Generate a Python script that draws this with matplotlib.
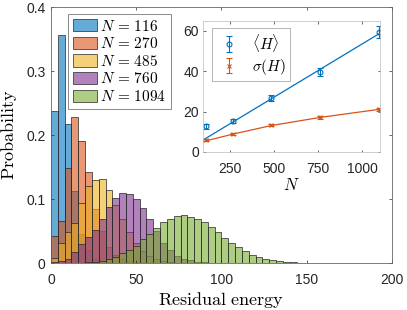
import numpy as np
import matplotlib
matplotlib.use("Agg")
import matplotlib.pyplot as plt

plt.rcParams['font.family'] = ['Liberation Sans', 'DejaVu Sans']
plt.rcParams['mathtext.fontset'] = 'cm'

# histogram data, bin width 4 starting at 0
bin_width = 4
sizes = [116, 270, 485, 760, 1094]
prob_116 = [0.237, 0.357, 0.217, 0.1125, 0.045, 0.02, 0.006, 0.002, 0.001]
prob_270 = [0.0426, 0.065, 0.149, 0.228, 0.190, 0.1423, 0.085, 0.05, 0.025,
            0.013, 0.007, 0.003, 0.001]
prob_485 = [0.008, 0.031, 0.048, 0.063, 0.093, 0.12, 0.1295, 0.1305, 0.114,
            0.09, 0.068, 0.048, 0.032, 0.019, 0.011, 0.006, 0.003, 0.001]
prob_760 = [0.001, 0.003, 0.0065, 0.017, 0.030, 0.040, 0.052, 0.068, 0.087,
            0.101, 0.109, 0.1075, 0.0997, 0.0856, 0.0686, 0.05, 0.032, 0.02,
            0.011, 0.007, 0.004, 0.002, 0.001]
prob_1094 = [0, 0, 0, 0, 0, 0.001, 0.002, 0.003, 0.006, 0.010, 0.015, 0.020,
             0.027, 0.0375, 0.046, 0.0546, 0.064, 0.0695, 0.073, 0.0747,
             0.0726, 0.0695, 0.064, 0.056, 0.0478, 0.039, 0.031, 0.0245,
             0.019, 0.0127, 0.009, 0.0065, 0.0043, 0.0033, 0.002, 0.001,
             0.0007, 0.0003]
all_probs = [prob_116, prob_270, prob_485, prob_760, prob_1094]

# inset data
inset_N = [116, 270, 485, 760, 1094]
mean_H = [12.7, 15.4, 26.5, 39.8, 59.3]
mean_err = [1.3, 1.0, 1.5, 2.0, 3.0]
sigma_H = [5.7, 8.9, 13.3, 17.1, 21.1]
sigma_err = [0.5, 0.5, 0.6, 0.7, 0.8]
fit_N_mean = [100, 1094]
fit_mean = [6.0, 58.5]
fit_N_sigma = [100, 270, 485, 760, 1094]
fit_sigma = [5.2, 8.9, 13.1, 17.1, 21.1]

colors = ['#0072BD', '#D95319', '#EDB120', '#7E2F8E', '#77AC30']
axis_col = '#262626'

fig = plt.figure(figsize=(4.07, 3.10), dpi=100)
ax = fig.add_axes([0.1253, 0.1516, 0.8378, 0.8258])

for n, probs, c in zip(sizes, all_probs, colors):
    left = np.arange(len(probs)) * bin_width
    fc = matplotlib.colors.to_rgba(c, 0.6)
    ax.bar(left, probs, width=bin_width, align='edge', facecolor=fc,
           edgecolor=(0.15, 0.15, 0.15, 1.0), linewidth=0.5,
           label=r'$N\, =\, %d$' % n)

ax.set_xlim(0, 200)
ax.set_ylim(0, 0.4)
ax.set_xticks([0, 50, 100, 150, 200])
ax.set_yticks([0, 0.1, 0.2, 0.3, 0.4])
ax.set_yticklabels(['0', '0.1', '0.2', '0.3', '0.4'])
ax.tick_params(direction='in', top=True, right=True, length=2.5, width=0.5,
               labelsize=10, colors=axis_col)
ax.tick_params(axis='x', pad=7)
ax.tick_params(axis='y', pad=4)
for s in ax.spines.values():
    s.set_linewidth(0.6)
    s.set_color('#666666')
ax.set_xlabel(r'$\mathrm{Residual\ energy}$', fontsize=13, labelpad=2)
ax.set_ylabel(r'$\mathrm{Probability}$', fontsize=13, labelpad=5)

leg = ax.legend(loc='upper left', bbox_to_anchor=(0.0507, 0.9727),
                fontsize=11, fancybox=False, framealpha=1,
                edgecolor='#777777', handlelength=1.6, handleheight=0.85,
                handletextpad=0.2, labelspacing=0.17, borderpad=0.3,
                borderaxespad=0)
leg.get_frame().set_linewidth(0.6)

# inset
axi = fig.add_axes([0.4995, 0.5097, 0.434, 0.4235])
axi.plot(fit_N_mean, fit_mean, color=colors[0], linewidth=0.9)
axi.plot(fit_N_sigma, fit_sigma, color=colors[1], linewidth=0.9)
axi.errorbar(inset_N, mean_H, yerr=mean_err, fmt='o', color=colors[0],
             mfc='none', ms=3.5, mew=0.8, elinewidth=0.8, capsize=2,
             capthick=0.8, label=r'$\langle H\rangle$')
axi.errorbar(inset_N, sigma_H, yerr=sigma_err, fmt='x', color=colors[1],
             ms=3, mew=0.8, elinewidth=0.8, capsize=2, capthick=0.8,
             label=r'$\sigma(H)$')
axi.set_xlim(100, 1100)
axi.set_ylim(0, 65)
axi.set_xticks([250, 500, 750, 1000])
axi.set_yticks([0, 20, 40, 60])
axi.tick_params(direction='in', top=True, right=True, length=1.8, width=0.5,
                labelsize=10, colors=axis_col)
axi.tick_params(axis='x', pad=7)
axi.tick_params(axis='y', pad=3)
for s in axi.spines.values():
    s.set_linewidth(0.5)
    s.set_color('#bbbbbb')
axi.set_xlabel(r'$N$', fontsize=12, labelpad=1)
ileg = axi.legend(loc='upper left', bbox_to_anchor=(0.0475, 0.942),
                  fontsize=11, fancybox=False, framealpha=1,
                  edgecolor='#999999', handlelength=1.8, handletextpad=0.6,
                  labelspacing=0.2, borderpad=0.25, borderaxespad=0)
ileg.get_frame().set_linewidth(0.5)

fig.savefig('out.png', dpi=100)
